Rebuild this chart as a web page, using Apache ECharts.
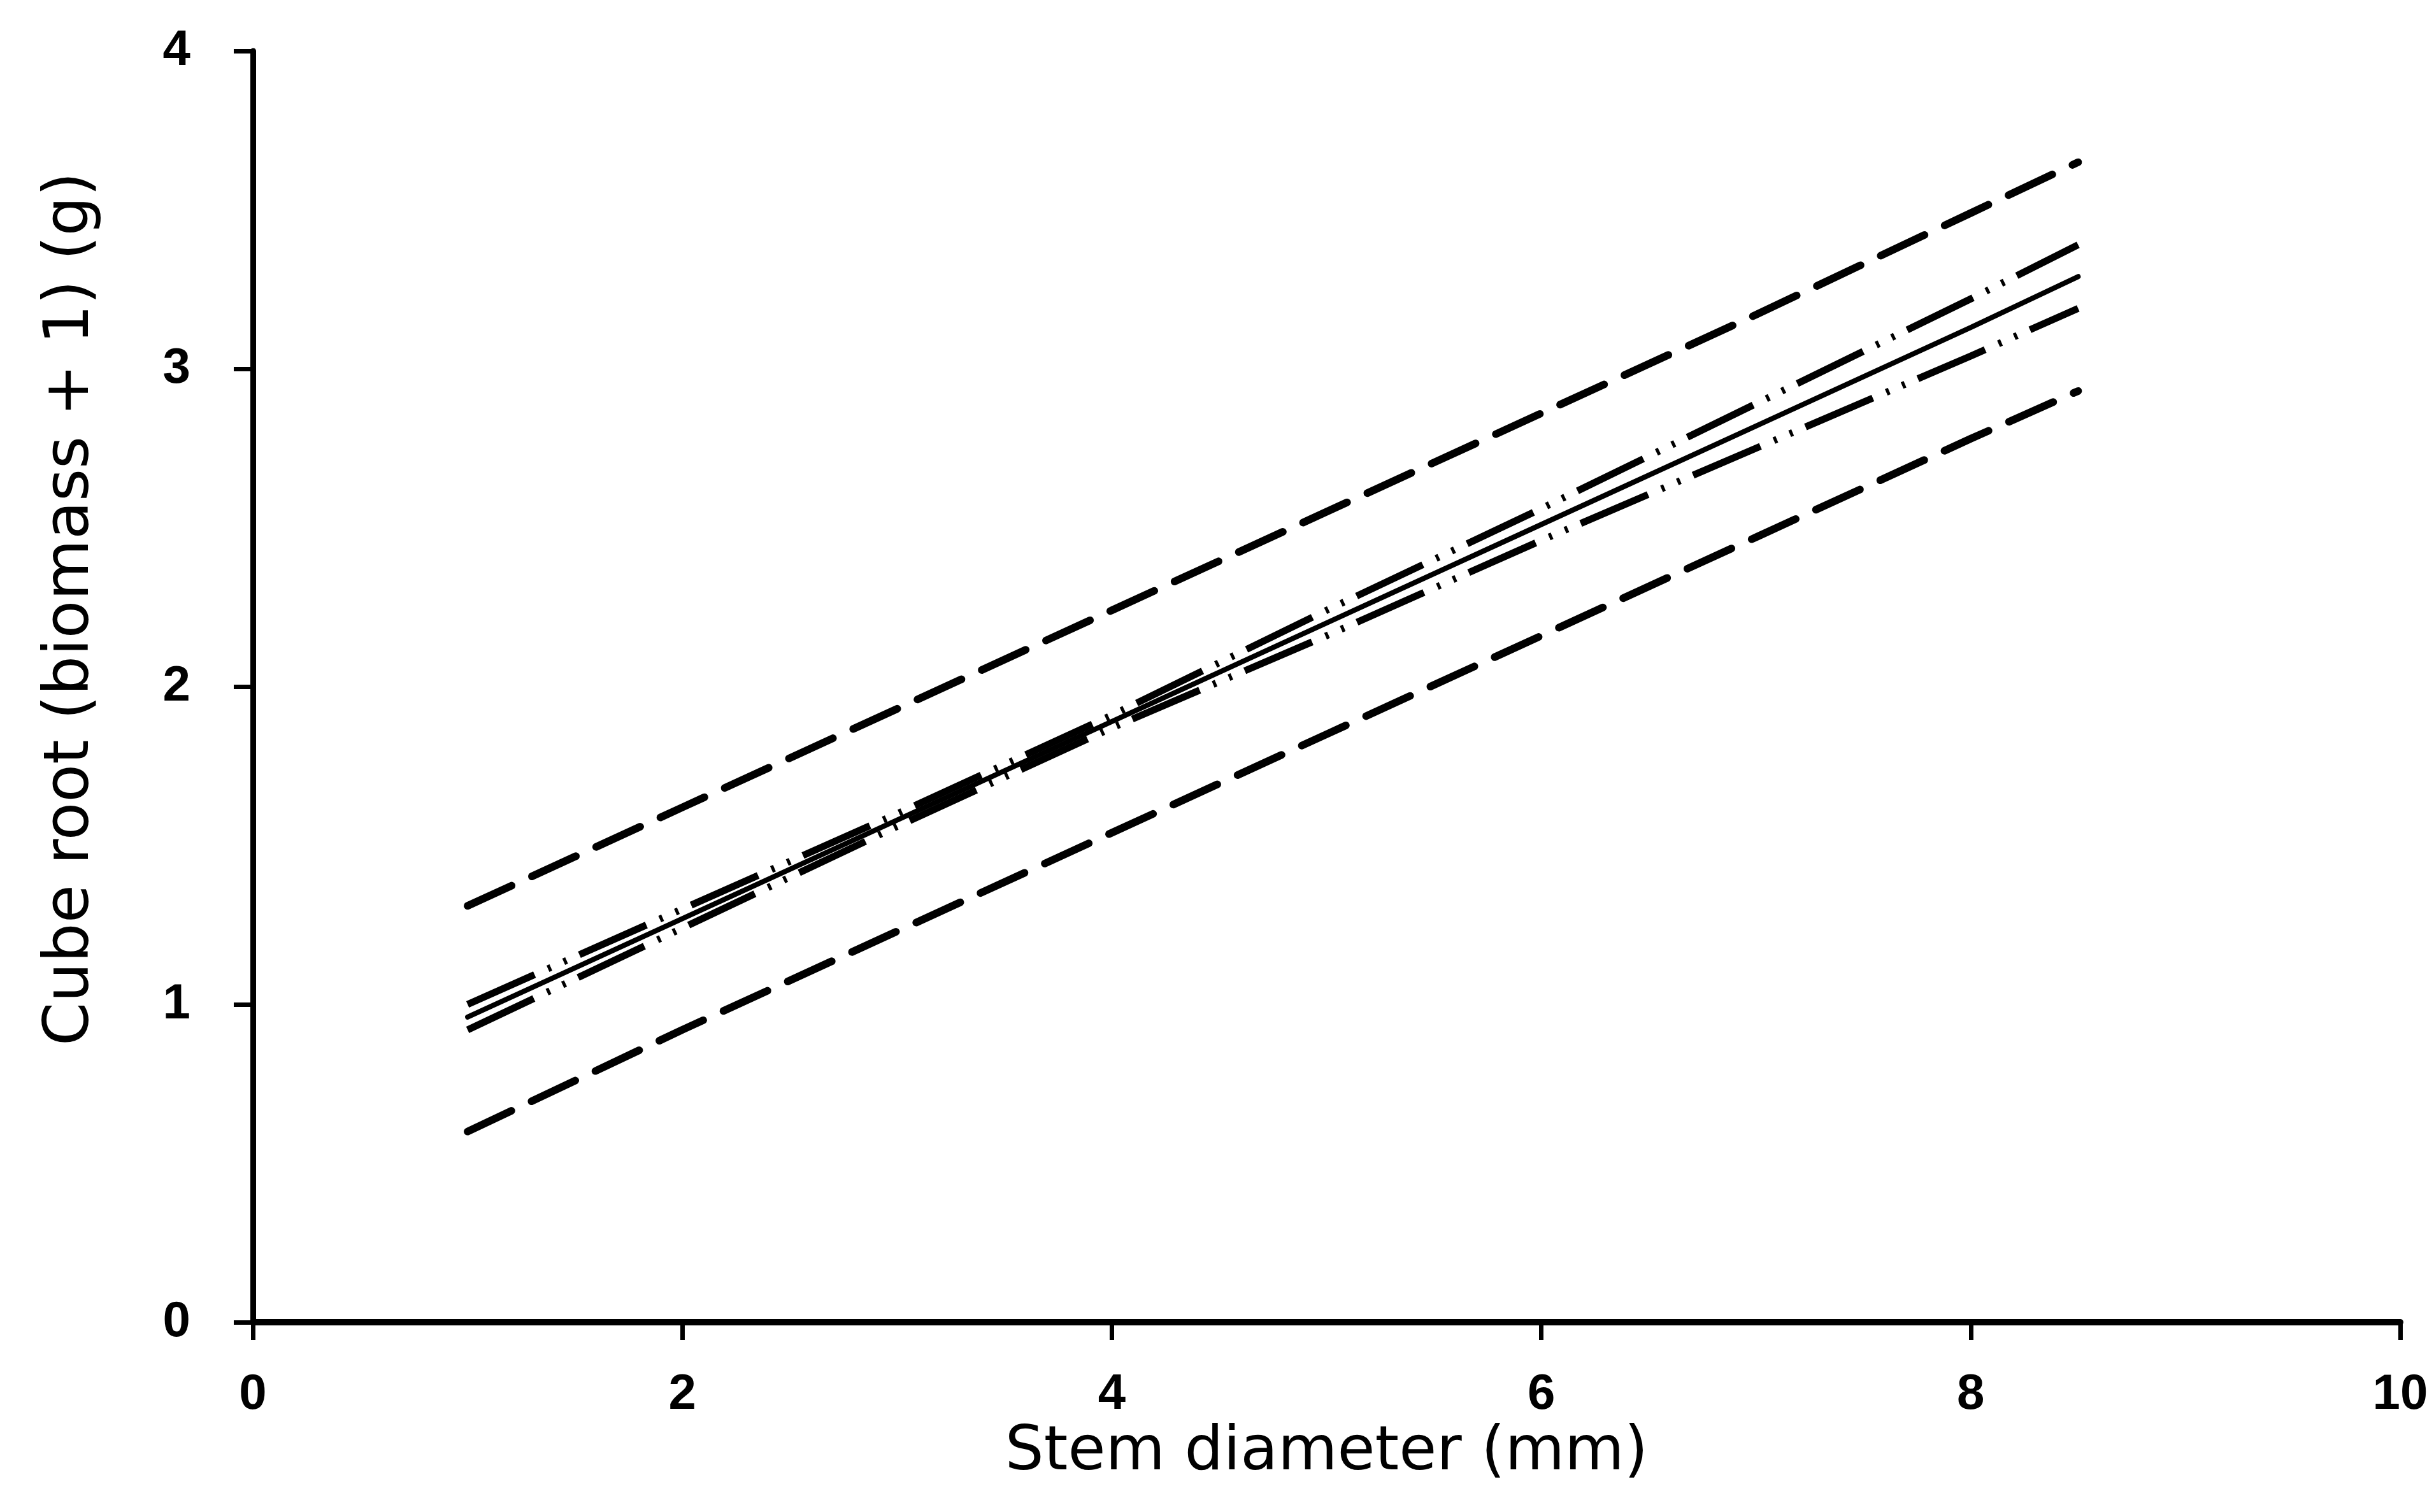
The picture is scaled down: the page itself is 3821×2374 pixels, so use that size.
<!DOCTYPE html>
<html>
<head>
<meta charset="utf-8">
<script src="https://cdn.jsdelivr.net/npm/echarts@6/dist/echarts.min.js"></script>
<style>
  html, body { margin: 0; padding: 0; background: #ffffff; }
  #chart { width: 3821px; height: 2374px; }
</style>
</head>
<body>
<div id="chart"></div>
<script>
// Stem diameter (mm) at which the fitted curves are evaluated
const stemDiameter = [1, 2, 3, 4, 5, 6, 7, 8, 8.5];

// Fitted regression line, cube root (biomass + 1)
const fitted = [0.96, 1.27, 1.58, 1.89, 2.20, 2.51, 2.82, 3.13, 3.29];

// Confidence band of the mean
const confUpper = [1.00, 1.30, 1.60, 1.91, 2.24, 2.56, 2.89, 3.22, 3.39];
const confLower = [0.92, 1.24, 1.56, 1.87, 2.16, 2.46, 2.75, 3.04, 3.19];

// Prediction band
const predUpper = [1.31, 1.62, 1.93, 2.24, 2.55, 2.86, 3.17, 3.49, 3.65];
const predLower = [0.60, 0.92, 1.23, 1.54, 1.85, 2.16, 2.47, 2.78, 2.93];

// Axis ticks
const xTicks = [0, 2, 4, 6, 8, 10];
const yTicks = [0, 1, 2, 3, 4];

const pairs = ys => stemDiameter.map((x, i) => [x, ys[i]]);

// long dash followed by two short dots
const dashDotDot = [115, 23, 5, 22, 5, 22];
// plain dashes (round caps add half the width at each end)
const longDash = [76, 35];

function lineSeries(name, ys, width, type, cap) {
  return {
    name: name,
    type: 'line',
    data: pairs(ys),
    showSymbol: false,
    symbol: 'none',
    smooth: false,
    silent: true,
    lineStyle: { color: '#000000', width: width, type: type, cap: cap },
    z: 3
  };
}

const tickFont = "'Liberation Sans Narrow', 'Liberation Sans', Arial, sans-serif";

const chart = echarts.init(document.getElementById('chart'), null, { renderer: 'canvas' });

chart.setOption({
  animation: false,
  backgroundColor: '#ffffff',
  grid: { left: 397, right: 53, top: 80, bottom: 298, containLabel: false },
  xAxis: {
    type: 'value',
    min: xTicks[0],
    max: xTicks[xTicks.length - 1],
    interval: 2,
    name: 'Stem diameter (mm)',
    nameLocation: 'middle',
    nameGap: 142,
    nameTextStyle: { fontFamily: 'DejaVu Sans', fontSize: 96, color: '#000000' },
    axisLine: { show: true, onZero: false, lineStyle: { color: '#000000', width: 10 } },
    axisTick: { show: true, inside: false, length: 28, lineStyle: { color: '#000000', width: 7 } },
    axisLabel: {
      margin: 75,
      fontFamily: tickFont,
      fontWeight: 'bold',
      fontSize: 78,
      color: '#000000'
    },
    splitLine: { show: false }
  },
  yAxis: {
    type: 'value',
    min: yTicks[0],
    max: yTicks[yTicks.length - 1],
    interval: 1,
    name: 'Cube root (biomass + 1) (g)',
    nameLocation: 'middle',
    nameGap: 235,
    nameRotate: 90,
    nameTextStyle: {
      fontFamily: 'DejaVu Sans',
      fontSize: 98,
      color: '#000000',
      padding: [0, 0, 0, 244]
    },
    axisLine: { show: true, onZero: false, lineStyle: { color: '#000000', width: 9 } },
    axisTick: { show: true, inside: false, length: 30, lineStyle: { color: '#000000', width: 7 } },
    axisLabel: {
      margin: 98,
      fontFamily: tickFont,
      fontWeight: 'bold',
      fontSize: 78,
      color: '#000000'
    },
    splitLine: { show: false }
  },
  series: [
    lineSeries('Prediction upper', predUpper, 12, longDash, 'round'),
    lineSeries('Prediction lower', predLower, 12, longDash, 'round'),
    lineSeries('Confidence upper', confUpper, 11, dashDotDot, 'butt'),
    lineSeries('Confidence lower', confLower, 11, dashDotDot, 'butt'),
    lineSeries('Fitted', fitted, 8, 'solid', 'round')
  ]
});
</script>
</body>
</html>
